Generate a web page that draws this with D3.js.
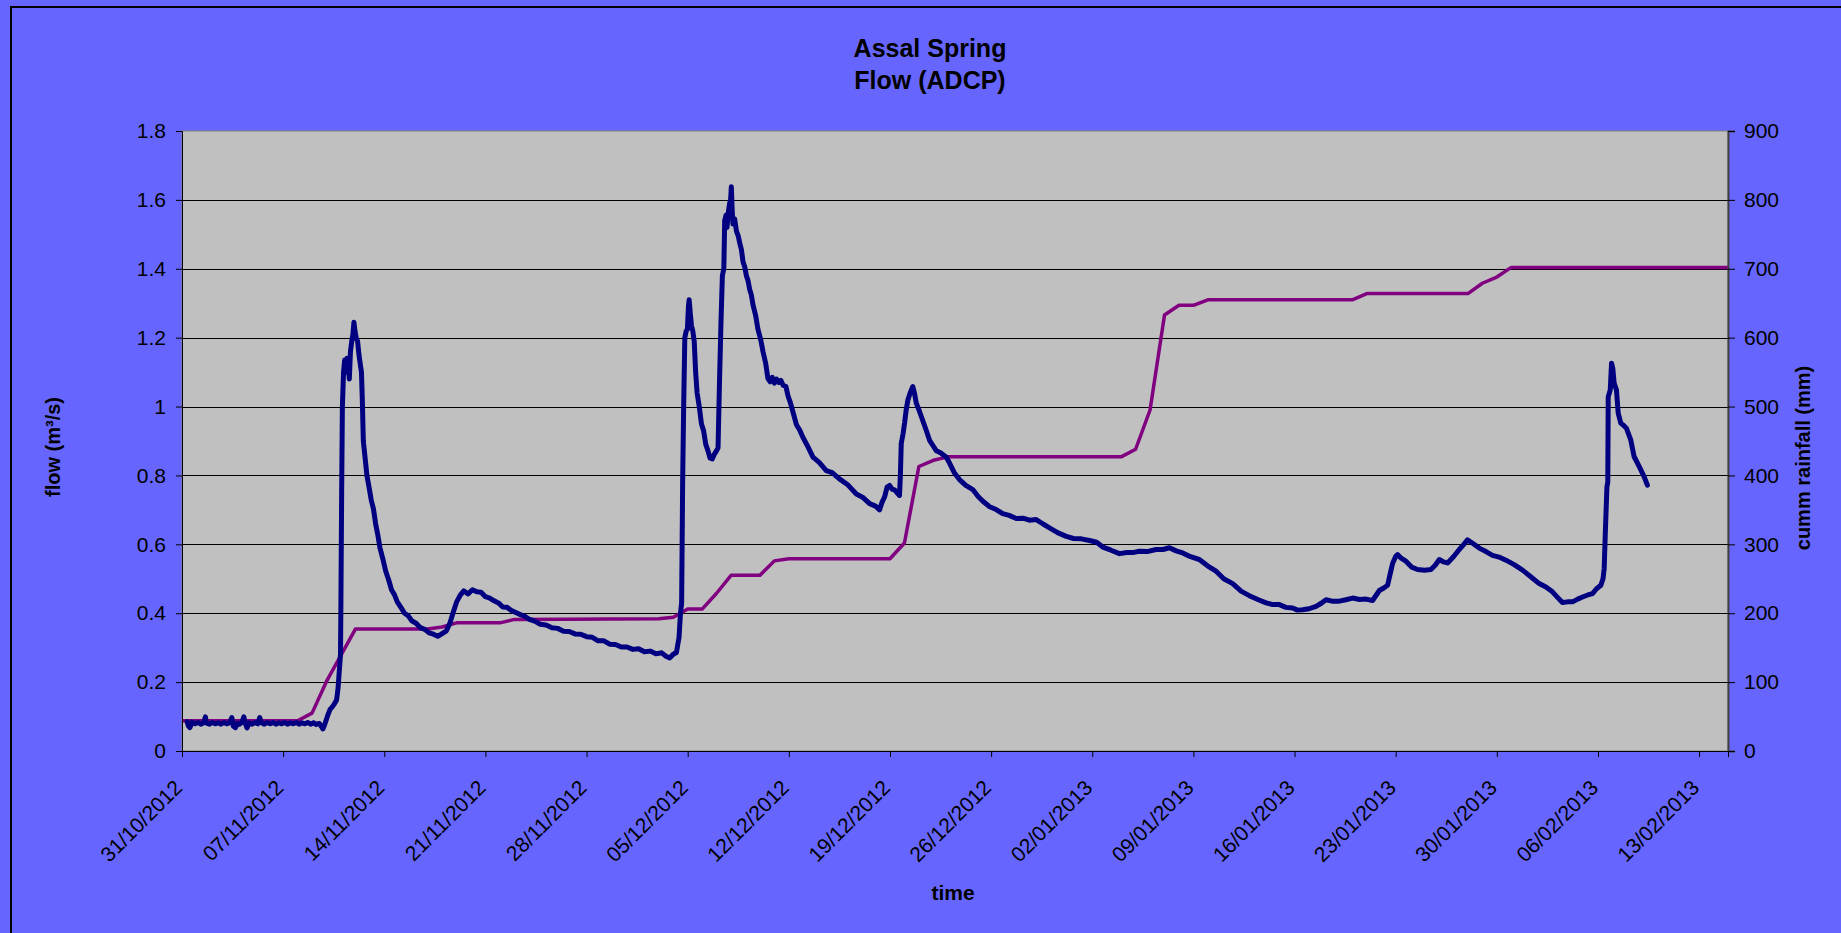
<!DOCTYPE html>
<html>
<head>
<meta charset="utf-8">
<script src="https://cdn.jsdelivr.net/npm/d3@7"></script>
<style>
  html, body { margin: 0; padding: 0; background: #6666FF; overflow: hidden; }
  svg { display: block; }
  text { font-family: "Liberation Sans", Arial, Helvetica, sans-serif; fill: #000; }
</style>
</head>
<body>
<svg id="chart" width="1841" height="933"></svg>
<script>
// ---- chart text ----
const chartTitle = ["Assal Spring", "Flow (ADCP)"];
const xAxisTitle = "time";
const flowAxisTitle = "flow (m³/s)";
const rainAxisTitle = "cumm rainfall (mm)";

// ---- axes ----
const xTickLabels = ["31/10/2012", "07/11/2012", "14/11/2012", "21/11/2012", "28/11/2012",
  "05/12/2012", "12/12/2012", "19/12/2012", "26/12/2012", "02/01/2013", "09/01/2013",
  "16/01/2013", "23/01/2013", "30/01/2013", "06/02/2013", "13/02/2013"];
const xAxisEnd = "15/02/2013";
const flowTicks = [0, 0.2, 0.4, 0.6, 0.8, 1.0, 1.2, 1.4, 1.6, 1.8];
const rainTicks = [0, 100, 200, 300, 400, 500, 600, 700, 800, 900];

// ---- cumulative rainfall: [days after 31/10/2012, mm] ----
const rainSeries = [[0, 44], [8, 44], [9, 55], [10, 101], [12, 177], [17, 177], [18, 180], [19, 186],
  [22, 186], [23, 191], [33, 192], [34, 194], [35, 206], [36, 206], [37, 229], [38, 255], [40, 255],
  [41, 276], [42, 279], [49, 279], [50, 302], [51, 413], [52, 422], [53, 427], [65, 427], [66, 438],
  [67, 495], [68, 633], [69, 647], [70, 647], [71, 655], [81, 655], [82, 664], [89, 664], [90, 679],
  [91, 688], [92, 702], [107, 702]];

// ---- spring flow (ADCP): [days after 31/10/2012, m3/s] ----
const flowSeries = [
  [0.35,0.085],[0.45,0.072],[0.55,0.068],[0.7,0.084],[0.9,0.079],[1.1,0.083],[1.3,0.078],[1.5,0.082],
  [1.62,0.099],[1.7,0.081],[1.9,0.078],[2.1,0.083],[2.3,0.079],[2.5,0.082],[2.7,0.078],[2.9,0.083],
  [3.1,0.079],[3.3,0.082],[3.45,0.097],[3.55,0.072],[3.7,0.068],[3.85,0.081],[4.0,0.078],[4.15,0.083],
  [4.28,0.099],[4.38,0.080],[4.5,0.067],[4.65,0.082],[4.85,0.078],[5.05,0.083],[5.25,0.079],[5.38,0.097],
  [5.5,0.082],[5.7,0.078],[5.9,0.083],[6.1,0.079],[6.3,0.083],[6.5,0.078],[6.7,0.082],[6.9,0.079],
  [7.1,0.083],[7.3,0.078],[7.5,0.082],[7.7,0.079],[7.9,0.083],[8.1,0.078],[8.3,0.082],[8.5,0.079],
  [8.7,0.083],[8.9,0.078],[9.1,0.082],[9.3,0.077],[9.5,0.080],[9.65,0.071],[9.75,0.064],[9.85,0.074],
  [9.95,0.086],
  [10.1,0.105],[10.25,0.121],[10.4,0.128],[10.55,0.137],[10.7,0.148],[10.8,0.182],[10.9,0.24],
  [10.97,0.28],[11.0,0.44],[11.05,0.75],[11.1,1.0],[11.18,1.10],[11.26,1.135],[11.34,1.10],[11.42,1.14],
  [11.5,1.12],[11.58,1.08],[11.66,1.16],[11.75,1.19],[11.83,1.21],[11.9,1.245],[11.97,1.22],[12.05,1.20],
  [12.15,1.19],[12.25,1.15],[12.35,1.12],[12.42,1.10],[12.48,1.02],[12.55,0.90],[12.65,0.86],[12.8,0.80],
  [12.95,0.765],[13.1,0.728],[13.25,0.703],[13.4,0.66],[13.55,0.628],[13.7,0.59],[13.9,0.558],[14.1,0.522],
  [14.3,0.497],[14.5,0.468],[14.7,0.454],[14.9,0.433],[15.15,0.417],[15.4,0.40],[15.65,0.393],[15.9,0.378],
  [16.2,0.371],[16.5,0.358],[16.8,0.353],[17.1,0.343],[17.4,0.339],[17.7,0.333],[18.0,0.341],[18.3,0.349],
  [18.55,0.372],[18.75,0.40],[19.0,0.432],[19.25,0.452],[19.5,0.465],[19.8,0.456],[20.1,0.468],[20.4,0.462],
  [20.7,0.461],[21.0,0.448],[21.3,0.444],[21.6,0.436],[21.9,0.43],[22.2,0.418],[22.5,0.417],[22.8,0.408],
  [23.1,0.402],[23.4,0.396],[23.7,0.392],[24.0,0.383],[24.4,0.377],[24.8,0.368],[25.2,0.366],[25.6,0.358],
  [26.0,0.356],[26.4,0.348],[26.8,0.347],[27.2,0.34],[27.6,0.339],[28.0,0.332],[28.4,0.33],[28.8,0.32],
  [29.2,0.32],[29.6,0.31],[30.0,0.309],[30.4,0.302],[30.8,0.302],[31.2,0.295],[31.6,0.297],[32.0,0.288],
  [32.4,0.29],[32.8,0.282],[33.2,0.285],[33.5,0.275],[33.75,0.27],[34.0,0.281],[34.22,0.286],
  [34.4,0.33],[34.5,0.40],[34.58,0.43],[34.65,0.78],[34.72,1.0],[34.8,1.2],[34.9,1.22],[34.98,1.225],
  [35.05,1.29],[35.1,1.31],[35.18,1.27],[35.26,1.235],[35.35,1.22],[35.45,1.19],[35.55,1.10],[35.65,1.04],
  [35.8,1.0],[35.95,0.95],[36.1,0.93],[36.25,0.89],[36.4,0.872],[36.55,0.85],[36.7,0.848],[36.85,0.862],
  [37.0,0.872],[37.1,0.88],[37.2,1.07],[37.3,1.24],[37.4,1.38],[37.5,1.40],[37.56,1.54],[37.65,1.555],
  [37.72,1.52],[37.8,1.56],[37.9,1.59],[37.97,1.60],[38.02,1.638],[38.08,1.57],[38.13,1.53],[38.25,1.545],
  [38.37,1.51],[38.5,1.495],[38.6,1.475],[38.72,1.455],[38.83,1.42],[38.95,1.405],[39.06,1.38],[39.18,1.365],
  [39.29,1.34],[39.4,1.325],[39.52,1.295],[39.7,1.265],[39.86,1.225],[40.05,1.195],[40.21,1.16],[40.4,1.125],
  [40.55,1.082],[40.7,1.072],[40.85,1.085],[41.0,1.068],[41.15,1.08],[41.3,1.07],[41.45,1.076],[41.6,1.062],
  [41.8,1.058],[41.95,1.03],[42.1,1.012],[42.3,0.982],[42.52,0.948],[42.75,0.932],[42.98,0.91],[43.3,0.885],
  [43.67,0.853],[44.1,0.838],[44.59,0.814],[45.0,0.808],[45.5,0.79],[46.1,0.772],[46.67,0.746],[47.1,0.737],
  [47.59,0.718],[48.0,0.711],[48.28,0.70],[48.45,0.722],[48.63,0.738],[48.8,0.766],[48.97,0.771],[49.15,0.76],
  [49.32,0.758],[49.5,0.749],[49.66,0.742],[49.72,0.80],[49.78,0.893],[49.9,0.92],[50.01,0.952],[50.12,0.99],
  [50.24,1.019],[50.4,1.04],[50.58,1.058],[50.7,1.038],[50.82,1.01],[51.05,0.985],[51.28,0.958],[51.5,0.932],
  [51.74,0.902],[51.97,0.887],[52.2,0.872],[52.5,0.866],[52.9,0.853],[53.12,0.836],[53.45,0.808],[53.81,0.788],
  [54.25,0.771],[54.73,0.759],[55.1,0.739],[55.43,0.725],[55.9,0.709],[56.35,0.701],[56.8,0.689],[57.25,0.684],
  [57.74,0.675],[58.2,0.676],[58.65,0.67],[59.12,0.672],[59.6,0.659],[60.04,0.648],[60.6,0.634],[61.2,0.623],
  [61.7,0.617],[62.25,0.616],[62.81,0.611],[63.3,0.606],[63.73,0.592],[64.3,0.583],[64.88,0.573],[65.4,0.576],
  [65.8,0.576],[66.26,0.58],[66.8,0.579],[67.42,0.585],[67.9,0.585],[68.34,0.59],[68.8,0.581],[69.26,0.575],
  [69.8,0.564],[70.41,0.556],[71.0,0.537],[71.57,0.522],[72.1,0.50],[72.72,0.486],[73.3,0.464],[73.87,0.451],
  [74.5,0.439],[75.03,0.43],[75.5,0.425],[75.95,0.425],[76.4,0.417],[76.87,0.415],[77.2,0.409],[77.56,0.41],
  [78.0,0.413],[78.49,0.42],[78.85,0.429],[79.18,0.439],[79.6,0.435],[80.1,0.435],[80.55,0.439],[81.02,0.444],
  [81.5,0.44],[81.95,0.441],[82.4,0.437],[82.87,0.466],[83.2,0.474],[83.44,0.481],[83.65,0.52],[83.79,0.545],
  [84.0,0.565],[84.13,0.57],[84.4,0.559],[84.71,0.551],[85.1,0.534],[85.52,0.527],[86.0,0.525],[86.44,0.527],
  [86.75,0.54],[87.02,0.556],[87.3,0.549],[87.59,0.546],[88.0,0.564],[88.4,0.585],[88.7,0.599],[88.97,0.613],
  [89.4,0.601],[89.78,0.589],[90.25,0.579],[90.7,0.568],[91.15,0.563],[91.63,0.554],[92.2,0.541],[92.78,0.525],
  [93.35,0.506],[93.93,0.486],[94.4,0.476],[94.85,0.462],[95.2,0.446],[95.54,0.431],[95.9,0.433],[96.24,0.433],
  [96.6,0.441],[96.93,0.447],[97.3,0.453],[97.62,0.457],[97.9,0.471],[98.2,0.481],[98.35,0.50],[98.43,0.53],
  [98.5,0.622],[98.62,0.767],[98.68,0.78],[98.71,1.028],[98.85,1.048],[98.94,1.126],[99.03,1.11],[99.12,1.068],
  [99.28,1.048],[99.4,0.981],[99.58,0.952],[99.78,0.945],[99.97,0.937],[100.27,0.903],[100.5,0.855],
  [100.85,0.826],[101.2,0.796],[101.42,0.772]
];

// ---- layout ----
const plot = { left: 182, top: 131, right: 1728, bottom: 751 };

const parseDay = d3.utcParse("%d/%m/%Y");
const fmtDay = d3.utcFormat("%d/%m/%Y");
const seriesStart = parseDay(xTickLabels[0]);
const toDate = d => new Date(seriesStart.getTime() + d * 864e5);

const svg = d3.select("#chart");

const x = d3.scaleUtc()
  .domain([seriesStart, parseDay(xAxisEnd)])
  .range([plot.left, plot.right]);
const yFlow = d3.scaleLinear().domain([0, 1.8]).range([plot.bottom, plot.top]);
const yRain = d3.scaleLinear().domain([0, 900]).range([plot.bottom, plot.top]);

// chart frame
svg.append("rect")
  .attr("x", 11).attr("y", 7)
  .attr("width", 1900).attr("height", 1000)
  .attr("fill", "#6666FF").attr("stroke", "#000").attr("stroke-width", 2);

// plot area
svg.append("rect")
  .attr("x", plot.left).attr("y", plot.top)
  .attr("width", plot.right - plot.left).attr("height", plot.bottom - plot.top)
  .attr("fill", "#C0C0C0").attr("stroke", "#808080").attr("stroke-width", 1);

// horizontal gridlines
svg.append("g")
  .selectAll("line")
  .data(flowTicks.filter(t => t > 0 && t < 1.8))
  .join("line")
  .attr("x1", plot.left).attr("x2", plot.right)
  .attr("y1", d => Math.round(yFlow(d)) + 0.5).attr("y2", d => Math.round(yFlow(d)) + 0.5)
  .attr("stroke", "#000").attr("stroke-width", 1);

svg.append("clipPath").attr("id", "plotClip")
  .append("rect")
  .attr("x", plot.left).attr("y", plot.top - 10)
  .attr("width", plot.right - plot.left + 3).attr("height", plot.bottom - plot.top + 10);

// cumulative rainfall line
svg.append("path")
  .datum(rainSeries)
  .attr("clip-path", "url(#plotClip)")
  .attr("fill", "none")
  .attr("stroke", "#800080")
  .attr("stroke-width", 3.5)
  .attr("stroke-linejoin", "round")
  .attr("d", d3.line().x(d => x(toDate(d[0]))).y(d => yRain(d[1])));

// flow line
svg.append("path")
  .datum(flowSeries)
  .attr("clip-path", "url(#plotClip)")
  .attr("fill", "none")
  .attr("stroke", "#000080")
  .attr("stroke-width", 5)
  .attr("stroke-linejoin", "round")
  .attr("stroke-linecap", "round")
  .attr("d", d3.line().x(d => x(toDate(d[0]))).y(d => yFlow(d[1])));

// left axis (flow)
const leftAxis = svg.append("g")
  .attr("transform", `translate(${plot.left},0)`)
  .call(d3.axisLeft(yFlow).tickValues(flowTicks).tickSize(6).tickPadding(10)
    .tickFormat(d => String(+d.toFixed(1))));

// right axis (rainfall)
const rightAxis = svg.append("g")
  .attr("transform", `translate(${plot.right},0)`)
  .call(d3.axisRight(yRain).tickValues(rainTicks).tickSize(7).tickPadding(9));

// bottom axis (dates)
const bottomAxis = svg.append("g")
  .attr("transform", `translate(0,${plot.bottom})`)
  .call(d3.axisBottom(x).tickValues(xTickLabels.map(parseDay)).tickSize(6).tickFormat(fmtDay));

[leftAxis, rightAxis, bottomAxis].forEach(g => {
  g.selectAll("text").attr("font-size", 21).attr("font-family", null);
  g.selectAll("line").attr("stroke", "#000");
  g.select(".domain").attr("stroke", "#000");
});
rightAxis.select(".domain").attr("stroke", "#404040").attr("stroke-width", 2);

bottomAxis.selectAll("text")
  .attr("x", null).attr("y", null).attr("dy", null)
  .attr("text-anchor", "end")
  .attr("transform", "translate(1,38) rotate(-45)");

// titles
const title = svg.append("g").attr("font-weight", "bold").attr("font-size", 25).attr("text-anchor", "middle");
title.append("text").attr("x", 930).attr("y", 57).text(chartTitle[0]);
title.append("text").attr("x", 930).attr("y", 89).text(chartTitle[1]);

svg.append("text")
  .attr("x", 953).attr("y", 900)
  .attr("text-anchor", "middle").attr("font-weight", "bold").attr("font-size", 21)
  .text(xAxisTitle);

svg.append("text")
  .attr("transform", "translate(53,447) rotate(-90)")
  .attr("text-anchor", "middle").attr("dominant-baseline", "central")
  .attr("font-weight", "bold").attr("font-size", 20)
  .text(flowAxisTitle);

svg.append("text")
  .attr("transform", "translate(1803,458) rotate(-90)")
  .attr("text-anchor", "middle").attr("dominant-baseline", "central")
  .attr("font-weight", "bold").attr("font-size", 20)
  .text(rainAxisTitle);
</script>
</body>
</html>
